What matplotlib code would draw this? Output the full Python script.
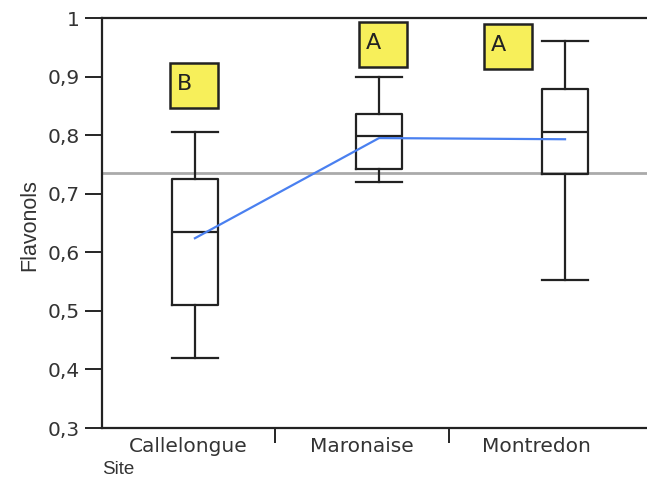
#!/usr/bin/env python3

# Flavonols by site: box plots with group letters and mean line

import numpy as np
import matplotlib as mpl
mpl.use("Agg")
import matplotlib.pyplot as plt
from matplotlib.patches import Rectangle

# Data
sites     = ["Callelongue", "Maronaise", "Montredon"]
whislo    = [0.420, 0.720, 0.553]
q1        = [0.510, 0.743, 0.733]
med       = [0.634, 0.799, 0.805]
q3        = [0.725, 0.836, 0.879]
whishi    = [0.805, 0.899, 0.961]
means     = [0.624, 0.795, 0.793]
letters   = ["B", "A", "A"]
letter_y  = [0.885, 0.955, 0.951]
grand_mean = 0.736

# Layout (category units, label centres at 0,1,2)
box_pos    = np.array([0.04, 1.098, 2.167])
letter_pos = np.array([0.034, 1.121, 1.839])
box_w = 0.264

fig = plt.figure(figsize=(6.47, 4.82), dpi=100)
ax = fig.add_axes([102/647, 54/482, 545/647, 410/482])

stats = []
for i in range(len(sites)):
    stats.append(dict(whislo=whislo[i], q1=q1[i], med=med[i], q3=q3[i],
                      whishi=whishi[i], fliers=[]))

lp = dict(color="#222222", linewidth=1.6)
ax.bxp(stats, positions=box_pos, widths=box_w, showfliers=False,
       boxprops=lp, whiskerprops=lp, capprops=lp, medianprops=lp,
       capwidths=box_w, manage_ticks=False)

ax.axhline(grand_mean, color="#aaaaaa", linewidth=2, zorder=1)
ax.plot(box_pos, means, color="#4a80f0", linewidth=1.6, zorder=3)

# letter boxes
lw_box = 48/174
lh_box = 0.077
for x, y, t in zip(letter_pos, letter_y, letters):
    ax.add_patch(Rectangle((x - lw_box/2, y - lh_box/2), lw_box, lh_box,
                           facecolor="#f7ef5a", edgecolor="#222222",
                           linewidth=1.8, zorder=4))
    ax.text(x - 0.055, y + 0.003, t, ha="center", va="center", fontsize=16,
            color="#222222", zorder=5)

ax.set_xlim(-0.494, 2.638)
ax.set_ylim(0.3, 1.0)

yt = np.arange(0.3, 1.01, 0.1)
ax.set_yticks(yt)
ax.set_yticklabels(["0,3", "0,4", "0,5", "0,6", "0,7", "0,8", "0,9", "1"],
                   fontsize=14.5, color="#333333")
ax.tick_params(axis="y", length=12, width=1.2, pad=4)

ax.set_xticks([0.5, 1.5])
ax.set_xticklabels([])
ax.tick_params(axis="x", length=11, width=1.2, direction="out")
for x, s in enumerate(sites):
    ax.text(x, -0.045, s, transform=ax.get_xaxis_transform(), ha="center",
            va="center", fontsize=14.5, color="#333333")

for sp in ["left", "top", "bottom"]:
    ax.spines[sp].set_linewidth(1.6)
    ax.spines[sp].set_color("#222222")
ax.spines["right"].set_visible(False)

fig.text(30/647, 1 - 225/482, "Flavonols", rotation=90, ha="center",
         va="center", fontsize=15.5, family="Liberation Sans", color="#333333")
fig.text(102/647, 1 - 470/482, "Site", ha="left", va="center",
         fontsize=13.5, family="Liberation Sans", color="#333333")

fig.savefig("out.png", dpi=100)
